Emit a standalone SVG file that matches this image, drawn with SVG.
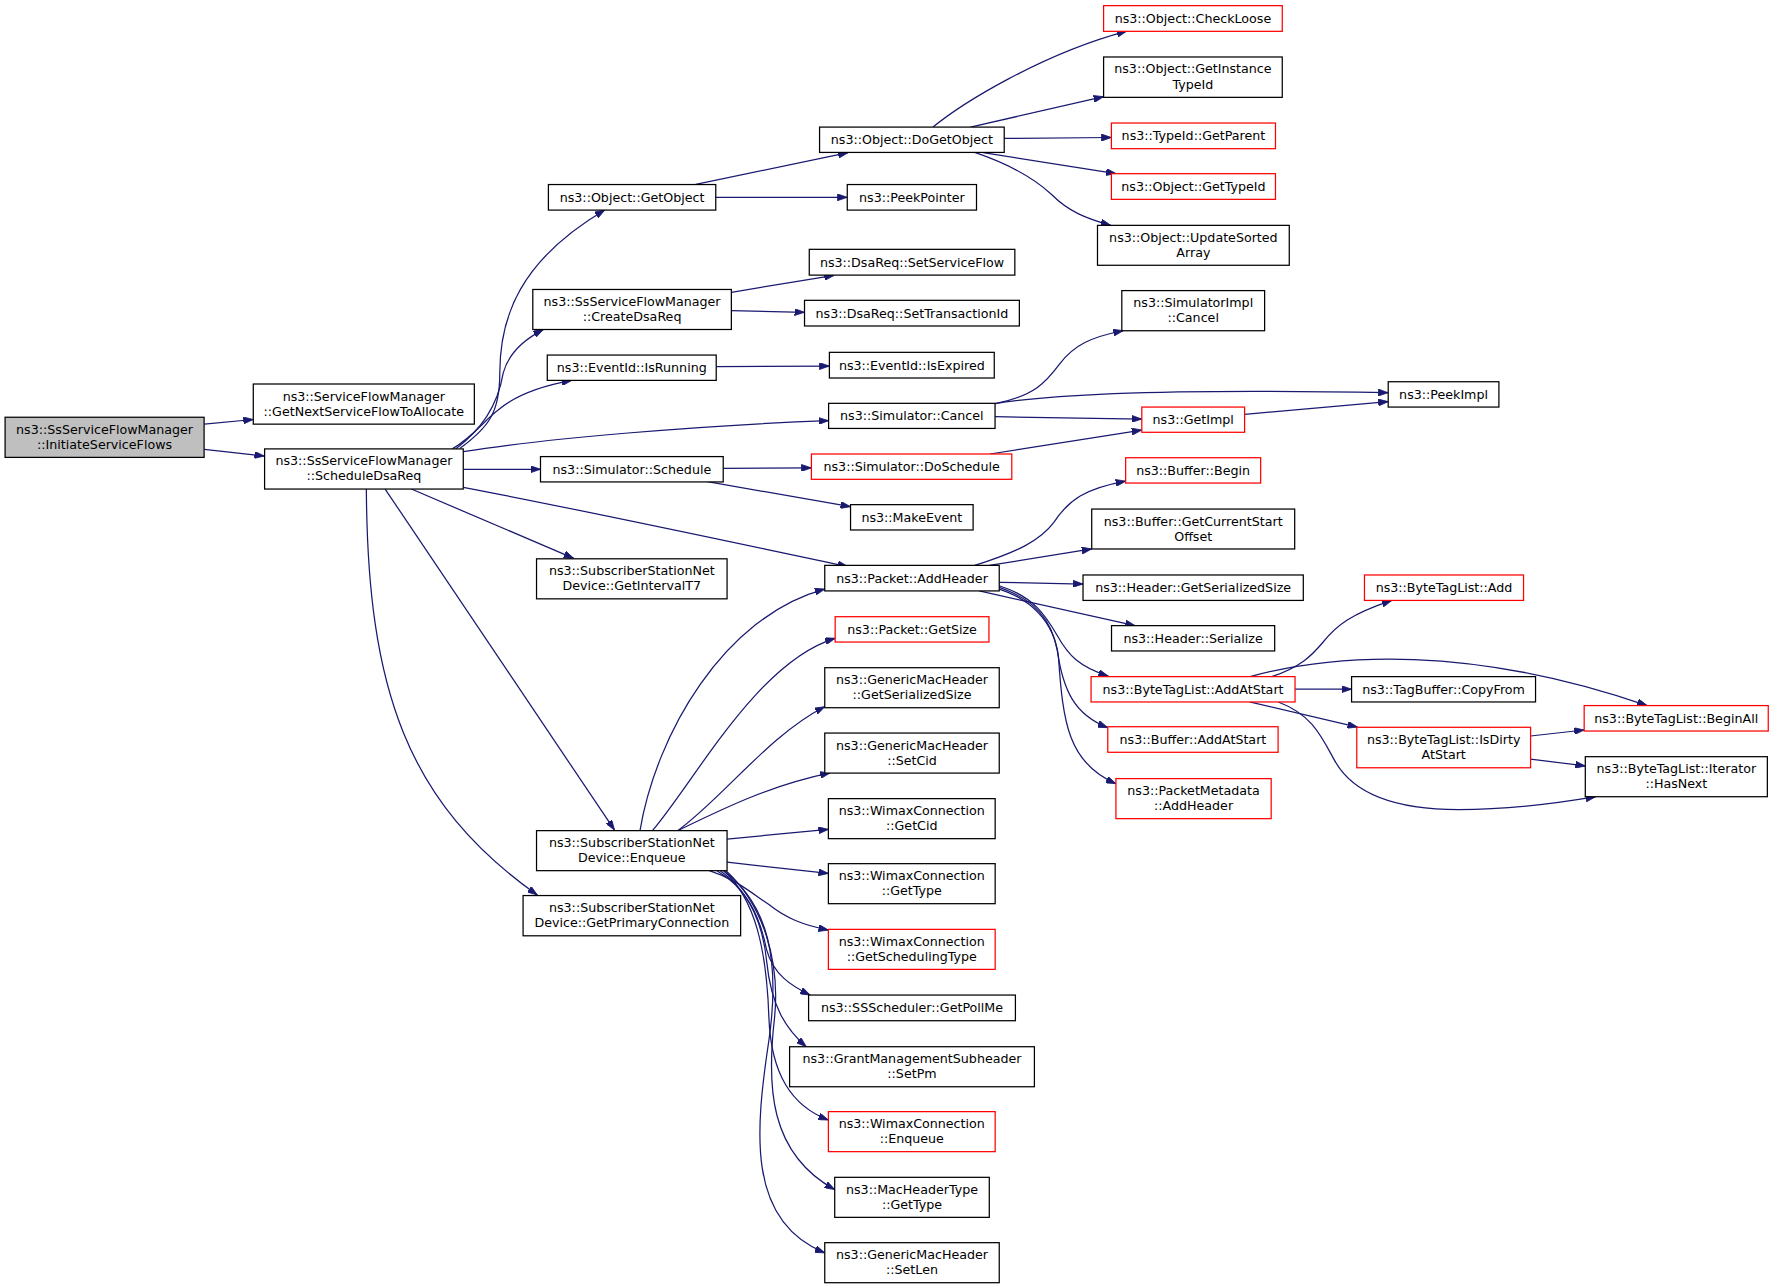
<svg xmlns="http://www.w3.org/2000/svg" width="1773" height="1288" viewBox="0 0 1773 1288">
<style>
.node rect{fill:#ffffff;stroke:#000000;stroke-width:1.1}
.node.red rect{stroke:#ff0000}
.node.root rect{fill:#bfbfbf}
.node text{font-family:"DejaVu Sans","Liberation Sans",sans-serif;font-size:11.2px;fill:#000000;text-anchor:middle}
.edges path{fill:none;stroke:#191970;stroke-width:1.1;marker-end:url(#a)}
</style>
<defs>
<marker id="a" viewBox="0 0 10 7" refX="10" refY="3.5" markerWidth="8.8" markerHeight="6.2" markerUnits="userSpaceOnUse" orient="auto"><path d="M0,0L10,3.5L0,7z" fill="#191970" stroke="#191970" stroke-width="0.8"/></marker>
</defs>
<rect x="0" y="0" width="1773" height="1288" fill="#ffffff"/>
<g transform="scale(1.13074)">
<g class="edges" id="edges">
<path d="M180.7,375 L224,371"/>
<path d="M180.7,397.4 L233.8,403.3"/>
<path d="M406.8,396.5 C432,378 442,365 442,330 C442,280 460,230 534.9,185.7"/>
<path d="M403,397 C425,380 440,360 445,330 C449,315 460,302 480.5,291.5"/>
<path d="M400,397 C420,385 428,372 440,363 C455,350 475,342 505.6,336.4"/>
<path d="M409.7,399.5 C480,388 620,376 732.8,372"/>
<path d="M409.7,415 L478,415"/>
<path d="M409.7,431 C520,452 640,478 749.7,501"/>
<path d="M363.8,432.5 L507.4,493.8"/>
<path d="M340.6,432.5 L543.4,734"/>
<path d="M324,432.5 C325,610 360,710 475.2,791.5"/>
<path d="M615.3,163 L750,135"/>
<path d="M632.8,174.5 L749.3,174.5"/>
<path d="M646.8,258.5 L737.7,243.5"/>
<path d="M646.8,274.8 L711.5,276.2"/>
<path d="M633.5,324.3 L733.5,323.7"/>
<path d="M825.1,112.4 C850,92 920,48 996.5,27.5"/>
<path d="M858.3,112.4 L976,85.5"/>
<path d="M888.1,122.4 L982.9,121.6"/>
<path d="M869.5,135 L987,153.5"/>
<path d="M862,134.8 C895,146 915,158 930,172 C945,187 960,193 982.3,199.3"/>
<path d="M880,357 C915,350 925,338 937,322 C950,305 965,298 993.3,292.5"/>
<path d="M880,357 C940,347 1050,344 1227.7,347.3"/>
<path d="M880,368.5 L1009.8,370.6"/>
<path d="M875.5,401.5 L1009.8,380.3"/>
<path d="M1100.7,366.4 L1227.7,355.2"/>
<path d="M639.6,414.2 L717.6,413.8"/>
<path d="M625.6,426 L752.2,448.1"/>
<path d="M862,500 C900,488 920,478 932,462 C945,442 960,432 995.5,425.5"/>
<path d="M875,500 L965.5,485.5"/>
<path d="M883.7,515 L957.8,516.5"/>
<path d="M866,522.6 L1003.8,553.3"/>
<path d="M883.7,518 C915,528 925,545 935,562 C945,580 955,590 980.2,598"/>
<path d="M883.7,519.5 C915,530 930,548 935,575 C940,610 950,632 979.7,643.5"/>
<path d="M883.7,521 C912,530 932,550 936,580 C940,640 945,675 986.9,693"/>
<path d="M1124.7,598.4 C1150,590 1160,580 1170,568 C1182,553 1195,543 1230.9,531"/>
<path d="M1105.6,598.4 C1180,578 1300,570 1456.7,624"/>
<path d="M1145.3,609.5 L1195.3,609.5"/>
<path d="M1105,620.8 L1200.5,643"/>
<path d="M1130.5,620.8 C1160,632 1168,650 1180,672 C1195,700 1230,716 1290,716 C1340,716 1380,710 1411.2,704.6"/>
<path d="M1353.6,650.9 L1401,645.6"/>
<path d="M1353.6,671.3 L1402,677.4"/>
<path d="M566,734.6 C580,650 640,545 729.4,521"/>
<path d="M577,734.6 C615,690 670,585 738.6,564.5"/>
<path d="M599.4,734.6 C640,705 680,650 729.4,625"/>
<path d="M599.4,734.6 C640,715 680,695 734,683.6"/>
<path d="M643,742 L732.6,733.5"/>
<path d="M643,762.5 L732.6,772.4"/>
<path d="M627.3,770 C650,777 665,790 680,800 C695,812 710,818 732.6,822.5"/>
<path d="M634,770 C660,785 672,810 678,840 C684,862 700,872 716.5,880"/>
<path d="M637,770 C665,790 675,820 678,850 C682,890 695,910 713,925.7"/>
<path d="M640,770 C668,795 678,840 680,900 C682,950 700,978 732.6,990.5"/>
<path d="M642,770 C675,800 690,850 685,900 C678,960 680,1020 738.2,1052"/>
<path d="M640,770 C680,800 690,850 680,920 C668,1000 660,1080 729.4,1108"/>
</g>
<g id="n-init" class="node root"><rect x="4.5" y="369" width="176" height="35.5"/><text x="92.5" y="383.6">ns3::SsServiceFlowManager</text><text x="92.5" y="396.9">::InitiateServiceFlows</text></g>
<g id="n-getnext" class="node"><rect x="224" y="339.6" width="195.5" height="35.5"/><text x="321.75" y="354.2">ns3::ServiceFlowManager</text><text x="321.75" y="367.5">::GetNextServiceFlowToAllocate</text></g>
<g id="n-sched" class="node"><rect x="234" y="397" width="175.7" height="35.5"/><text x="321.85" y="411.6">ns3::SsServiceFlowManager</text><text x="321.85" y="424.9">::ScheduleDsaReq</text></g>
<g id="n-getobj" class="node"><rect x="485" y="163.2" width="148" height="22.6"/><text x="559" y="178.4">ns3::Object::GetObject</text></g>
<g id="n-create" class="node"><rect x="471.2" y="256" width="175.6" height="35.4"/><text x="559" y="270.6">ns3::SsServiceFlowManager</text><text x="559" y="283.9">::CreateDsaReq</text></g>
<g id="n-isrun" class="node"><rect x="484" y="314" width="149.4" height="22.4"/><text x="558.7" y="329.2">ns3::EventId::IsRunning</text></g>
<g id="n-simsched" class="node"><rect x="478" y="403.8" width="161.6" height="22.4"/><text x="558.8" y="419">ns3::Simulator::Schedule</text></g>
<g id="n-gett7" class="node"><rect x="474.5" y="494.2" width="168.5" height="35.4"/><text x="558.75" y="508.8">ns3::SubscriberStationNet</text><text x="558.75" y="522.1">Device::GetIntervalT7</text></g>
<g id="n-enq" class="node"><rect x="474.5" y="734.6" width="168.5" height="35.4"/><text x="558.75" y="749.2">ns3::SubscriberStationNet</text><text x="558.75" y="762.5">Device::Enqueue</text></g>
<g id="n-getprim" class="node"><rect x="462.6" y="792" width="192.4" height="35.6"/><text x="558.8" y="806.6">ns3::SubscriberStationNet</text><text x="558.8" y="819.9">Device::GetPrimaryConnection</text></g>
<g id="n-dogetobj" class="node"><rect x="724.8" y="112.4" width="163.3" height="22.4"/><text x="806.45" y="127.6">ns3::Object::DoGetObject</text></g>
<g id="n-peekptr" class="node"><rect x="749.3" y="163.2" width="114.3" height="22.6"/><text x="806.45" y="178.4">ns3::PeekPointer</text></g>
<g id="n-setsf" class="node"><rect x="715.7" y="220.5" width="181.8" height="22.8"/><text x="806.6" y="235.8">ns3::DsaReq::SetServiceFlow</text></g>
<g id="n-settid" class="node"><rect x="711.5" y="265.6" width="190" height="22.7"/><text x="806.5" y="280.8">ns3::DsaReq::SetTransactionId</text></g>
<g id="n-isexp" class="node"><rect x="733.5" y="311.6" width="145.8" height="22.7"/><text x="806.4" y="326.8">ns3::EventId::IsExpired</text></g>
<g id="n-simcancel" class="node"><rect x="732.8" y="356.7" width="147.2" height="22.2"/><text x="806.4" y="371.8">ns3::Simulator::Cancel</text></g>
<g id="n-dosched" class="node red"><rect x="717.6" y="401.5" width="177.2" height="22.4"/><text x="806.2" y="416.7">ns3::Simulator::DoSchedule</text></g>
<g id="n-makeevent" class="node"><rect x="752.2" y="446.3" width="108.4" height="22.4"/><text x="806.4" y="461.5">ns3::MakeEvent</text></g>
<g id="n-addheader" class="node"><rect x="729.4" y="500" width="154.3" height="22.6"/><text x="806.55" y="515.2">ns3::Packet::AddHeader</text></g>
<g id="n-getsize" class="node red"><rect x="738.6" y="545.4" width="136" height="22.4"/><text x="806.6" y="560.6">ns3::Packet::GetSize</text></g>
<g id="n-gmhgss" class="node"><rect x="729.4" y="590.5" width="154.3" height="35.4"/><text x="806.55" y="605.1">ns3::GenericMacHeader</text><text x="806.55" y="618.4">::GetSerializedSize</text></g>
<g id="n-gmhsetcid" class="node"><rect x="729.4" y="648.3" width="154.3" height="35.4"/><text x="806.55" y="662.9">ns3::GenericMacHeader</text><text x="806.55" y="676.2">::SetCid</text></g>
<g id="n-wcgetcid" class="node"><rect x="732.6" y="706.3" width="147.5" height="35.4"/><text x="806.35" y="720.9">ns3::WimaxConnection</text><text x="806.35" y="734.2">::GetCid</text></g>
<g id="n-wcgettype" class="node"><rect x="732.6" y="763.8" width="147.5" height="35.4"/><text x="806.35" y="778.4">ns3::WimaxConnection</text><text x="806.35" y="791.7">::GetType</text></g>
<g id="n-wcgetsched" class="node red"><rect x="732.6" y="821.9" width="147.5" height="35.4"/><text x="806.35" y="836.5">ns3::WimaxConnection</text><text x="806.35" y="849.8">::GetSchedulingType</text></g>
<g id="n-getpollme" class="node"><rect x="715.1" y="880" width="182.9" height="22.7"/><text x="806.55" y="895.2">ns3::SSScheduler::GetPollMe</text></g>
<g id="n-setpm" class="node"><rect x="698.3" y="925.7" width="216.5" height="35.4"/><text x="806.55" y="940.3">ns3::GrantManagementSubheader</text><text x="806.55" y="953.6">::SetPm</text></g>
<g id="n-wcenq" class="node red"><rect x="732.6" y="983.1" width="147.5" height="35.4"/><text x="806.35" y="997.7">ns3::WimaxConnection</text><text x="806.35" y="1011">::Enqueue</text></g>
<g id="n-mhtgettype" class="node"><rect x="738.2" y="1041.2" width="136.7" height="35.4"/><text x="806.55" y="1055.8">ns3::MacHeaderType</text><text x="806.55" y="1069.1">::GetType</text></g>
<g id="n-gmhsetlen" class="node"><rect x="729.4" y="1099" width="154.3" height="35.4"/><text x="806.55" y="1113.6">ns3::GenericMacHeader</text><text x="806.55" y="1126.9">::SetLen</text></g>
<g id="n-checkloose" class="node red"><rect x="976" y="5" width="158" height="22.7"/><text x="1055" y="20.2">ns3::Object::CheckLoose</text></g>
<g id="n-getinst" class="node"><rect x="976" y="50.4" width="158" height="35.7"/><text x="1055" y="65">ns3::Object::GetInstance</text><text x="1055" y="78.3">TypeId</text></g>
<g id="n-getparent" class="node red"><rect x="982.9" y="108.8" width="145.1" height="22.7"/><text x="1055.45" y="124">ns3::TypeId::GetParent</text></g>
<g id="n-gettypeid" class="node red"><rect x="982.9" y="153.6" width="145.1" height="22.7"/><text x="1055.45" y="168.8">ns3::Object::GetTypeId</text></g>
<g id="n-updsorted" class="node"><rect x="970.6" y="199.3" width="169.6" height="35.3"/><text x="1055.4" y="213.9">ns3::Object::UpdateSorted</text><text x="1055.4" y="227.2">Array</text></g>
<g id="n-simimplcancel" class="node"><rect x="992.1" y="257" width="126.3" height="35.5"/><text x="1055.25" y="271.6">ns3::SimulatorImpl</text><text x="1055.25" y="284.9">::Cancel</text></g>
<g id="n-peekimpl" class="node"><rect x="1227.7" y="337.6" width="97.9" height="22.4"/><text x="1276.65" y="352.8">ns3::PeekImpl</text></g>
<g id="n-getimpl" class="node red"><rect x="1009.8" y="360" width="90.9" height="22.3"/><text x="1055.25" y="375.2">ns3::GetImpl</text></g>
<g id="n-bufbegin" class="node red"><rect x="995.5" y="404.8" width="119.4" height="22.4"/><text x="1055.2" y="420">ns3::Buffer::Begin</text></g>
<g id="n-getcurstart" class="node"><rect x="965.5" y="450.2" width="179.5" height="35.3"/><text x="1055.25" y="464.8">ns3::Buffer::GetCurrentStart</text><text x="1055.25" y="478.1">Offset</text></g>
<g id="n-hgss" class="node"><rect x="957.8" y="508.5" width="194.8" height="22.5"/><text x="1055.2" y="523.7">ns3::Header::GetSerializedSize</text></g>
<g id="n-hser" class="node"><rect x="983" y="553.3" width="144.3" height="22.4"/><text x="1055.15" y="568.5">ns3::Header::Serialize</text></g>
<g id="n-btladdatstart" class="node red"><rect x="964.9" y="598.4" width="180.4" height="22.4"/><text x="1055.1" y="613.6">ns3::ByteTagList::AddAtStart</text></g>
<g id="n-bufaddatstart" class="node red"><rect x="979.7" y="642.7" width="150.6" height="22.6"/><text x="1055" y="657.9">ns3::Buffer::AddAtStart</text></g>
<g id="n-pmaddheader" class="node red"><rect x="986.9" y="688.6" width="137.3" height="35.4"/><text x="1055.55" y="703.2">ns3::PacketMetadata</text><text x="1055.55" y="716.5">::AddHeader</text></g>
<g id="n-btladd" class="node red"><rect x="1206.7" y="508.5" width="140.7" height="22.5"/><text x="1277.05" y="523.7">ns3::ByteTagList::Add</text></g>
<g id="n-copyfrom" class="node"><rect x="1195.3" y="598.4" width="162.7" height="22.4"/><text x="1276.65" y="613.6">ns3::TagBuffer::CopyFrom</text></g>
<g id="n-isdirty" class="node red"><rect x="1199.9" y="643.2" width="153.7" height="35.8"/><text x="1276.75" y="657.8">ns3::ByteTagList::IsDirty</text><text x="1276.75" y="671.1">AtStart</text></g>
<g id="n-beginall" class="node red"><rect x="1401" y="624" width="162.8" height="22.5"/><text x="1482.4" y="639.2">ns3::ByteTagList::BeginAll</text></g>
<g id="n-hasnext" class="node"><rect x="1402" y="669.2" width="161" height="35.4"/><text x="1482.5" y="683.8">ns3::ByteTagList::Iterator</text><text x="1482.5" y="697.1">::HasNext</text></g>
</g>
</svg>
